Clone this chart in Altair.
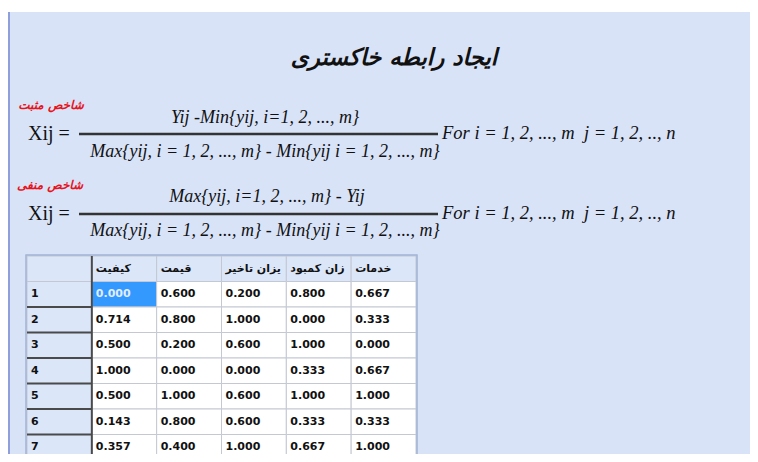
import altair as alt
import pandas as pd

# ---- text content ----
title_text = "ایجاد رابطه خاکستری"
pos_label = "شاخص مثبت"
neg_label = "شاخص منفی"
lhs_text = "Xij ="
num1_text = "Yij -Min{yij, i=1, 2, ..., m}"
num2_text = "Max{yij, i=1, 2, ..., m} - Yij"
den_text = "Max{yij, i = 1, 2, ..., m} - Min{yij i = 1, 2, ..., m}"
cond_text = "For i = 1, 2, ..., m\u00a0\u00a0j = 1, 2, .., n"

# ---- table data ----
columns = ["کیفیت", "قیمت", "یزان تاخیر", "زان کمبود", "خدمات"]
row_labels = ["1", "2", "3", "4", "5", "6", "7"]
quality = [0.000, 0.714, 0.500, 1.000, 0.500, 0.143, 0.357]
price = [0.600, 0.800, 0.200, 0.000, 1.000, 0.800, 0.400]
delay = [0.200, 1.000, 0.600, 0.000, 0.600, 0.600, 1.000]
shortage = [0.800, 0.000, 1.000, 0.333, 1.000, 0.333, 0.667]
service = [0.667, 0.333, 0.000, 0.667, 1.000, 0.333, 1.000]
series = [quality, price, delay, shortage, service]

HEAD = "#dbe6f8"
SEL = "#3399ff"

cells = []
cells.append(dict(c=0, r=0, label="", fill=HEAD, tc="#111111"))
for j, name in enumerate(columns):
    cells.append(dict(c=j + 1, r=0, label=name, fill=HEAD, tc="#111111"))
for i, rl in enumerate(row_labels):
    cells.append(dict(c=0, r=i + 1, label=rl, fill=HEAD, tc="#111111"))
    for j, s in enumerate(series):
        sel = (i == 0 and j == 0)
        cells.append(dict(c=j + 1, r=i + 1, label=f"{s[i]:.3f}",
                          fill=SEL if sel else "#ffffff",
                          tc="#e4ecff" if sel else "#111111"))
cells = pd.DataFrame(cells)
cells["c2"] = cells["c"] + 1
cells["r2"] = cells["r"] + 1
cells["rm"] = cells["r"] + 0.5

xs = alt.Scale(domain=[0, 6], range=[18, 407])
ys = alt.Scale(domain=[0, 8], range=[248, 452])

one = pd.DataFrame({"k": [0]})


def txt(s, x, y, size, font="Liberation Serif", style="normal", weight="normal",
        color="#111111", align="center"):
    return alt.Chart(pd.DataFrame({"t": [s]})).mark_text(
        font=font, fontSize=size, fontStyle=style, fontWeight=weight,
        color=color, align=align, baseline="middle"
    ).encode(x=alt.value(x), y=alt.value(y), text="t:N")


background = alt.Chart(one).mark_rect(color="#d8e3f8").encode(
    x=alt.value(0), x2=alt.value(742), y=alt.value(4), y2=alt.value(446))
left_line = alt.Chart(one).mark_rule(color="#8e9fdc", strokeWidth=2).encode(
    x=alt.value(0), y=alt.value(4), y2=alt.value(446))

title = txt(title_text, 385, 50, 23, font="DejaVu Sans", style="italic", weight="bold")

pos = txt(pos_label, 42, 97, 12, font="DejaVu Sans", style="italic", weight="bold",
          color="#e8141c")
neg = txt(neg_label, 41, 177, 12, font="DejaVu Sans", style="italic", weight="bold",
          color="#e8141c")

lhs1 = txt(lhs_text, 19, 126, 20, align="left")
num1 = txt(num1_text, 256, 110, 18, style="italic")
den1 = txt(den_text, 256, 144, 18, style="italic")
cond1 = txt(cond_text, 433, 125, 18.5, style="italic", align="left")
bar1 = alt.Chart(one).mark_rule(color="#333333", strokeWidth=2.5).encode(
    x=alt.value(70), x2=alt.value(429), y=alt.value(126))

lhs2 = txt(lhs_text, 19, 206, 20, align="left")
num2 = txt(num2_text, 258, 189, 18, style="italic")
den2 = txt(den_text, 256, 223, 18, style="italic")
cond2 = txt(cond_text, 433, 205, 18.5, style="italic", align="left")
bar2 = alt.Chart(one).mark_rule(color="#333333", strokeWidth=2.5).encode(
    x=alt.value(70), x2=alt.value(429), y=alt.value(206))

rects = alt.Chart(cells).mark_rect(stroke="#c3c8d2", strokeWidth=1).encode(
    x=alt.X("c:Q", scale=xs, axis=None),
    x2="c2:Q",
    y=alt.Y("r:Q", scale=ys, axis=None),
    y2="r2:Q",
    color=alt.Color("fill:N", scale=None),
)
labels = alt.Chart(cells).mark_text(
    font="DejaVu Sans", fontSize=11, fontWeight="bold", align="left",
    baseline="middle", dx=4
).encode(
    x=alt.X("c:Q", scale=xs, axis=None),
    y=alt.Y("rm:Q", scale=ys, axis=None),
    text="label:N",
    color=alt.Color("tc:N", scale=None),
)

dark = pd.DataFrame({
    "x": [1] + [0] * 6,
    "x2": [1] + [1] * 6,
    "y": [0, 2, 3, 4, 5, 6, 7],
    "y2": [8, 2, 3, 4, 5, 6, 7],
})
dark_rules = alt.Chart(dark).mark_rule(color="#4a4a4a", strokeWidth=2).encode(
    x=alt.X("x:Q", scale=xs, axis=None), x2="x2:Q",
    y=alt.Y("y:Q", scale=ys, axis=None), y2="y2:Q",
)
border = alt.Chart(one).mark_rect(fill=None, stroke="#a3b3d4", strokeWidth=1.5).encode(
    x=alt.value(17), x2=alt.value(408), y=alt.value(247), y2=alt.value(453))

chart = alt.layer(
    background, left_line, title, pos, neg,
    lhs1, num1, den1, cond1, bar1,
    lhs2, num2, den2, cond2, bar2,
    rects, labels, dark_rules, border,
).properties(
    width=742, height=446,
    autosize=alt.AutoSizeParams(type="fit", contains="padding"),
    padding=0,
    background="#ffffff",
).configure_view(strokeWidth=0)

chart.save("out.html", embed_options={"renderer": "svg", "actions": False})
